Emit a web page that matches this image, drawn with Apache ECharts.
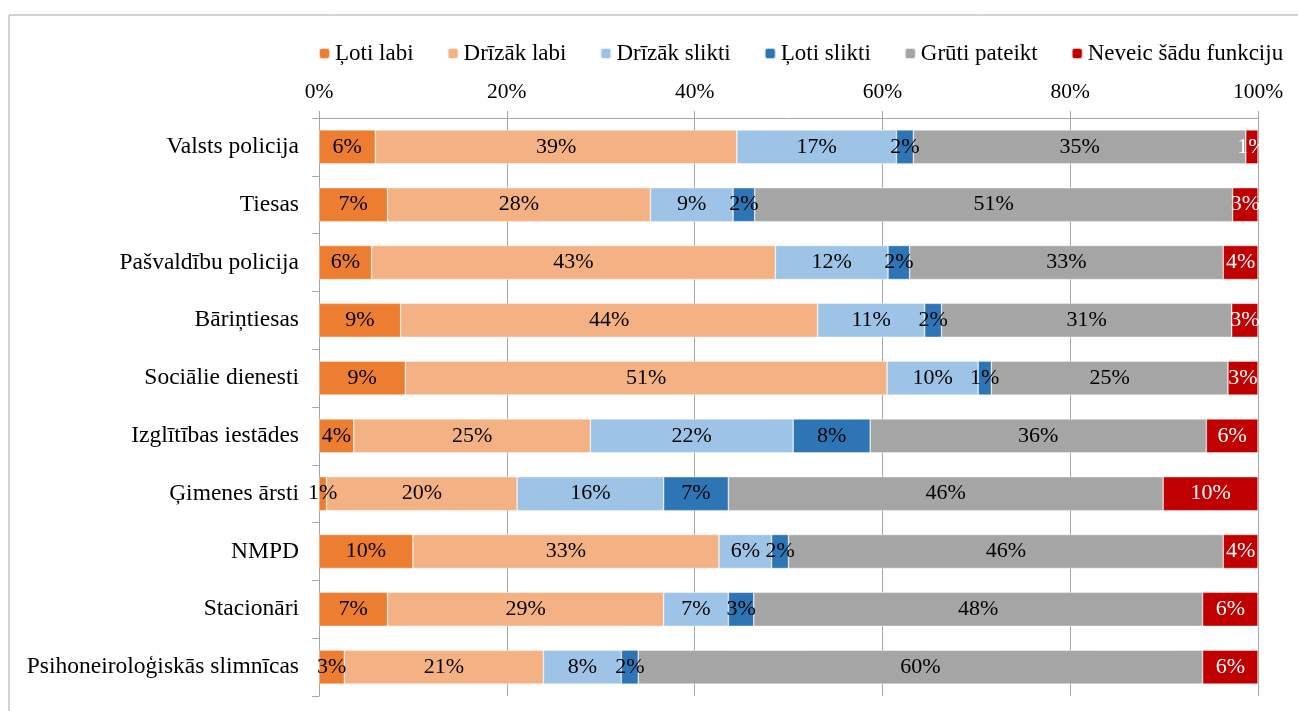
<!DOCTYPE html>
<html>
<head>
    <meta charset='utf-8'>
    <script src="https://cdn.jsdelivr.net/npm/echarts@6/dist/echarts.min.js"></script>
</head>
<body>
<style>
    html, body, #main {
        width: 100%;
        height: 100%;
        margin: 0;
        padding: 0;
        background: #fff;
    }
</style>
<div id="main"></div>
<script>
    var categories = ['Valsts policija', 'Tiesas', 'Pašvaldību policija', 'Bāriņtiesas', 'Sociālie dienesti',
        'Izglītības iestādes', 'Ģimenes ārsti', 'NMPD', 'Stacionāri', 'Psihoneiroloģiskās slimnīcas'];
    var seriesNames = ['Ļoti labi', 'Drīzāk labi', 'Drīzāk slikti', 'Ļoti slikti', 'Grūti pateikt', 'Neveic šādu funkciju'];

    var lotiLabi      = [6.0, 7.3, 5.6, 8.7, 9.2, 3.7, 0.8, 10.0, 7.3, 2.7];
    var drizakLabi    = [38.5, 28.0, 43.0, 44.4, 51.3, 25.2, 20.3, 32.6, 29.4, 21.2];
    var drizakSlikti  = [17.0, 8.8, 12.0, 11.4, 9.7, 21.6, 15.6, 5.6, 6.9, 8.3];
    var lotiSlikti    = [1.8, 2.3, 2.3, 1.8, 1.4, 8.2, 6.9, 1.8, 2.7, 1.8];
    var grutiPateikt  = [35.4, 50.9, 33.4, 30.9, 25.2, 35.8, 46.3, 46.3, 47.8, 60.1];
    var neveic        = [1.3, 2.7, 3.7, 2.8, 3.2, 5.5, 10.1, 3.7, 5.9, 5.9];

    var values = [lotiLabi, drizakLabi, drizakSlikti, lotiSlikti, grutiPateikt, neveic];
    var colors = ['#ED7D31', '#F4B183', '#9DC3E6', '#2E75B6', '#A5A5A5', '#C00000'];
    var labelColors = ['#000', '#000', '#000', '#000', '#000', '#fff'];

    var font = '"Liberation Serif", "Times New Roman", serif';
    var chart = echarts.init(document.getElementById('main'));

    var series = [];
    for (var i = 0; i < seriesNames.length; i++) {
        series.push({
            name: seriesNames[i],
            type: 'bar',
            stack: 'total',
            barWidth: 34,
            data: values[i],
            itemStyle: {
                color: colors[i],
                borderColor: 'rgba(255,255,255,0.7)',
                borderWidth: 0.6
            },
            label: {
                show: true,
                position: 'inside',
                color: labelColors[i],
                fontFamily: font,
                fontSize: 22,
                formatter: function (p) {
                    return Math.round(p.value) + '%';
                }
            }
        });
    }

    chart.setOption({
        animation: false,
        textStyle: {fontFamily: font},
        graphic: [{
            type: 'rect',
            shape: {x: 9, y: 15, width: 1300, height: 720},
            style: {fill: 'none', stroke: '#a6a6a6', lineWidth: 1}
        }],
        legend: {
            top: 37,
            left: 313,
            itemWidth: 11,
            itemHeight: 11,
            itemGap: 33,
            textStyle: {fontFamily: font, fontSize: 23, color: '#000'},
            data: seriesNames
        },
        grid: {left: 319, right: 40, top: 118, bottom: 15},
        xAxis: {
            type: 'value',
            position: 'top',
            min: 0,
            max: 100,
            interval: 20,
            axisLine: {show: true, lineStyle: {color: '#a6a6a6'}},
            axisTick: {show: true, length: 7, lineStyle: {color: '#a6a6a6'}},
            splitLine: {show: true, lineStyle: {color: '#a6a6a6'}},
            axisLabel: {
                margin: 15,
                fontFamily: font,
                fontSize: 21.5,
                color: '#000',
                formatter: '{value}%'
            }
        },
        yAxis: {
            type: 'category',
            inverse: true,
            data: categories,
            axisLine: {show: true, lineStyle: {color: '#a6a6a6'}},
            axisTick: {show: true, length: 7, lineStyle: {color: '#a6a6a6'}},
            axisLabel: {
                margin: 20,
                fontFamily: font,
                fontSize: 23.5,
                color: '#000'
            }
        },
        series: series
    });
</script>
</body>
</html>
